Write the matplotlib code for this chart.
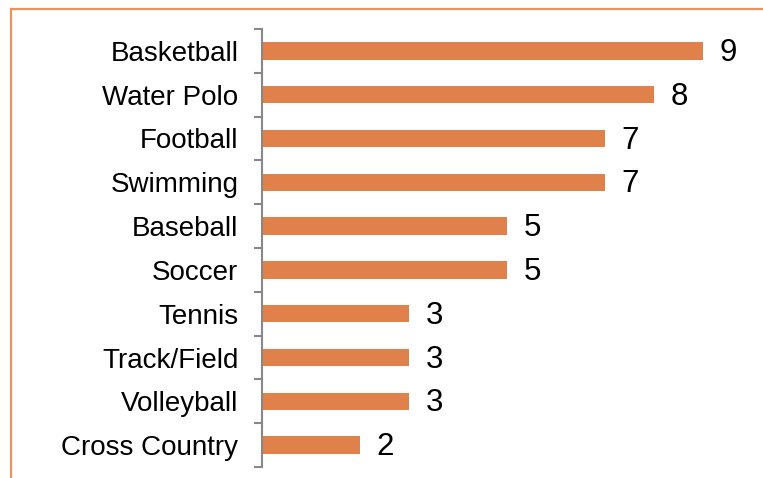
import numpy as np
import matplotlib.pyplot as plt
from matplotlib.lines import Line2D

sports = ['Basketball', 'Water Polo', 'Football', 'Swimming', 'Baseball',
          'Soccer', 'Tennis', 'Track/Field', 'Volleyball', 'Cross Country']
counts = [9, 8, 7, 7, 5, 5, 3, 3, 3, 2]

bar_color = '#E0804A'
frame_color = '#E8945C'

plt.rcParams['font.family'] = ['Liberation Sans', 'DejaVu Sans']

fig = plt.figure(figsize=(7.63, 4.78), dpi=100)
ax = fig.add_axes([262/763, 11/478, 490/763, 438/478])

y = np.arange(len(sports))
ax.barh(y, counts, height=0.4, color=bar_color)
for yi, c in zip(y, counts):
    ax.annotate(str(c), (c, yi), xytext=(12, -1.5), textcoords='offset points',
                ha='left', va='center', fontsize=22.5)

ax.set_ylim(len(sports) - 0.5, -0.5)
ax.set_xlim(0, 10)
ax.set_yticks(y)
ax.set_yticklabels(sports, fontsize=20)
ax.set_yticks(np.arange(-0.5, len(sports), 1), minor=True)
ax.tick_params(axis='y', which='major', length=0, pad=17)
ax.tick_params(axis='y', which='minor', length=6, width=1.5, color='#888888', direction='out')
ax.set_xticks([])
for s in ['top', 'right', 'bottom']:
    ax.spines[s].set_visible(False)
ax.spines['left'].set_color('#888888')
ax.spines['left'].set_linewidth(1.5)

# orange frame (top and left edges visible)
fig.add_artist(Line2D([11/763, 1.0], [1 - 9/478, 1 - 9/478], color=frame_color, lw=1.6))
fig.add_artist(Line2D([11/763, 11/763], [0.0, 1 - 9/478], color=frame_color, lw=1.6))

fig.savefig('out.png', dpi=100)
